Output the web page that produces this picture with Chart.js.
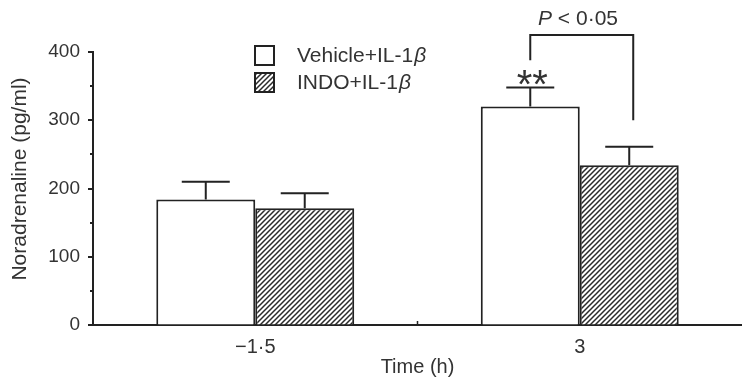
<!DOCTYPE html>
<html>
<head>
<meta charset="utf-8">
<script src="https://cdn.jsdelivr.net/npm/chart.js@4/dist/chart.umd.min.js"></script>
<style>
  html, body { margin: 0; padding: 0; background: #fff; }
  #wrap { width: 742px; height: 384px; }
</style>
</head>
<body>
<div id="wrap"><canvas id="chart"></canvas></div>
<script>
const times = ["\u22121\u00b75", "3"];
const vehicleMeans = [184, 320];
const vehicleErr = [26, 28];
const indoMeans = [171, 234];
const indoErr = [22, 27];
const yTickValues = [0, 100, 200, 300, 400];
const seriesNames = ["Vehicle+IL-1\u03b2", "INDO+IL-1\u03b2"];

const ink = "#222";
const textInk = "#333";
const fontFamily = "'Liberation Sans', Arial, sans-serif";

// diagonal hatch for the INDO bars
function makeHatch() {
  const s = 5;
  const c = document.createElement("canvas");
  c.width = s; c.height = s;
  const g = c.getContext("2d");
  g.fillStyle = "#fff";
  g.fillRect(0, 0, s, s);
  g.strokeStyle = "#2a2a2a";
  g.lineWidth = 1.5;
  g.beginPath();
  g.moveTo(0, s); g.lineTo(s, 0);
  g.moveTo(-1, 1); g.lineTo(1, -1);
  g.moveTo(s - 1, s + 1); g.lineTo(s + 1, s - 1);
  g.stroke();
  return g.createPattern(c, "repeat");
}

let canvas = document.querySelector("#chart");
let ctx = canvas.getContext("2d");
const hatch = makeHatch();

// error bars, axis ticks, legend and significance marks
const extras = {
  id: "extras",
  afterDatasetsDraw(chart) {
    const c = chart.ctx;
    const x = chart.scales.x;
    const y = chart.scales.y;
    c.save();
    c.strokeStyle = ink;
    c.lineWidth = 2;

    // error bars (upper only)
    chart.data.datasets.forEach((ds, di) => {
      const meta = chart.getDatasetMeta(di);
      meta.data.forEach((bar, i) => {
        const top = y.getPixelForValue(ds.data[i] + ds.errors[i]);
        c.beginPath();
        c.moveTo(bar.x, bar.y);
        c.lineTo(bar.x, top);
        c.moveTo(bar.x - 24, top);
        c.lineTo(bar.x + 24, top);
        c.stroke();
      });
    });

    // y axis ticks, major and minor
    const ax = chart.chartArea.left;
    for (let v = 0; v <= 400; v += 50) {
      const py = Math.round(y.getPixelForValue(v));
      const len = v % 100 === 0 ? 5 : 3;
      c.beginPath();
      c.moveTo(ax - len, py);
      c.lineTo(ax, py);
      c.stroke();
    }
    // x axis separator tick
    const mid = (x.getPixelForValue(0) + x.getPixelForValue(1)) / 2;
    c.lineWidth = 1.5;
    c.beginPath();
    c.moveTo(mid, chart.chartArea.bottom);
    c.lineTo(mid, chart.chartArea.bottom - 4);
    c.stroke();

    // y axis title
    c.fillStyle = textInk;
    c.font = "21px " + fontFamily;
    c.textAlign = "center";
    c.textBaseline = "middle";
    c.save();
    c.translate(20, 179);
    c.rotate(-Math.PI / 2);
    c.fillText("Noradrenaline (pg/ml)", 0, 0);
    c.restore();

    // legend
    const fills = ["#fff", hatch];
    seriesNames.forEach((name, i) => {
      const by = 46 + i * 27;
      c.fillStyle = fills[i];
      c.fillRect(255, by, 19, 19);
      c.lineWidth = 2;
      c.strokeStyle = ink;
      c.strokeRect(255, by, 19, 19);
      c.fillStyle = textInk;
      c.textAlign = "left";
      c.textBaseline = "middle";
      const main = name.slice(0, -1);
      c.font = "21px " + fontFamily;
      c.fillText(main, 297, by + 10);
      const w = c.measureText(main).width;
      c.font = "italic 21px " + fontFamily;
      c.fillText(name.slice(-1), 297 + w + 1, by + 10);
    });

    // significance bracket between the two bars at 3 h
    const vb = chart.getDatasetMeta(0).data[1];
    const ib = chart.getDatasetMeta(1).data[1];
    const yTop = y.getPixelForValue(425);
    c.lineWidth = 2;
    c.strokeStyle = ink;
    c.beginPath();
    c.moveTo(vb.x, y.getPixelForValue(388));
    c.lineTo(vb.x, yTop);
    c.lineTo(ib.x + 4, yTop);
    c.lineTo(ib.x + 4, y.getPixelForValue(300));
    c.stroke();

    // P < 0.05
    c.fillStyle = textInk;
    c.textBaseline = "middle";
    c.textAlign = "left";
    c.font = "italic 21px " + fontFamily;
    const pW = c.measureText("P").width;
    c.font = "21px " + fontFamily;
    const rest = " < 0\u00b705";
    const rW = c.measureText(rest).width;
    const px0 = 578 - (pW + rW) / 2;
    const pY = y.getPixelForValue(448);
    c.font = "italic 21px " + fontFamily;
    c.fillText("P", px0, pY);
    c.font = "21px " + fontFamily;
    c.fillText(rest, px0 + pW, pY);

    // ** over vehicle bar at 3 h
    c.font = "40px " + fontFamily;
    c.textAlign = "center";
    c.textBaseline = "alphabetic";
    c.fillText("**", vb.x + 2, y.getPixelForValue(366) + 23);
    c.restore();
  }
};

let chart = new Chart(ctx, {
  type: "bar",
  data: {
    labels: times,
    datasets: [
      {
        label: seriesNames[0],
        data: vehicleMeans,
        errors: vehicleErr,
        backgroundColor: "#fff",
        borderColor: ink,
        borderWidth: 2,
      },
      {
        label: seriesNames[1],
        data: indoMeans,
        errors: indoErr,
        backgroundColor: hatch,
        borderColor: ink,
        borderWidth: 2,
      },
    ],
  },
  options: {
    responsive: true,
    maintainAspectRatio: false,
    animation: false,
    layout: { padding: { top: 52, right: 0, bottom: 0, left: 0 } },
    plugins: {
      legend: { display: false },
      tooltip: { enabled: false },
    },
    datasets: {
      bar: { barPercentage: 1, categoryPercentage: 0.61 },
    },
    scales: {
      x: {
        grid: { drawOnChartArea: false, drawTicks: false },
        border: { display: true, color: ink, width: 2 },
        ticks: {
          color: textInk,
          padding: 10,
          font: { family: fontFamily, size: 20 },
        },
        title: {
          display: true,
          text: "Time (h)",
          color: textInk,
          font: { family: fontFamily, size: 20 },
          padding: { top: 0, bottom: 5 },
        },
        afterFit: (scale) => { scale.height = 59; },
      },
      y: {
        min: 0,
        max: 400,
        afterBuildTicks: (scale) => {
          scale.ticks = yTickValues.map((v) => ({ value: v }));
        },
        grid: { drawOnChartArea: false, drawTicks: false },
        border: { display: true, color: ink, width: 2 },
        ticks: {
          color: textInk,
          padding: 13,
          font: { family: fontFamily, size: 19 },
        },
        afterFit: (scale) => { scale.width = 93; },
      },
    },
  },
  plugins: [extras],
});
</script>
</body>
</html>
